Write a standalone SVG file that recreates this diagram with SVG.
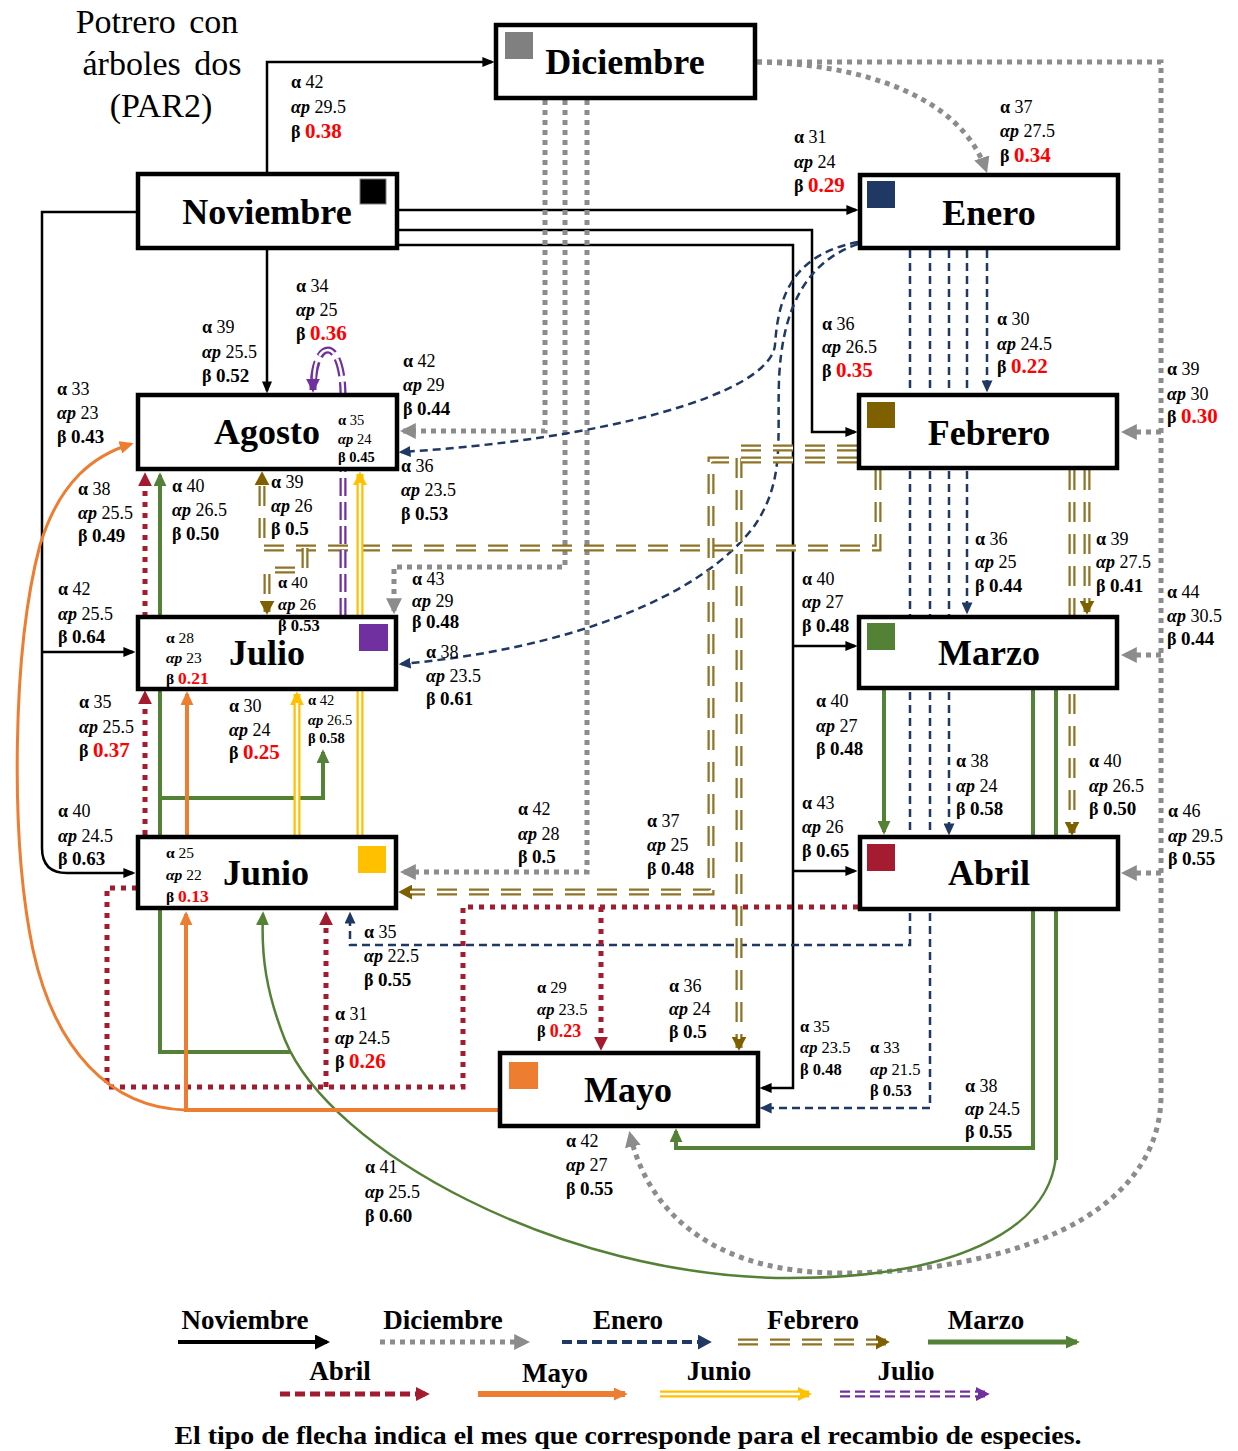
<svg xmlns="http://www.w3.org/2000/svg" width="1238" height="1451" viewBox="0 0 1238 1451">
<style>
.box{fill:#fff;stroke:#000;stroke-width:4.5}
.nt{font-family:"Liberation Serif","Times New Roman",serif;font-weight:bold;font-size:36px;text-anchor:middle;fill:#000}
.title{font-family:"Liberation Serif","Times New Roman",serif;font-size:34px;text-anchor:middle;fill:#000;word-spacing:5px}
.lb{font-family:"Liberation Serif","Times New Roman",serif;font-size:18px;fill:#000}
.a{font-weight:bold}
.ap{font-weight:bold;font-style:italic}
.v{font-weight:bold;font-size:19px}
.r{fill:#FF0000;font-size:21px}
.s14{font-size:14.5px}
.s14 .v{font-size:14.5px}
.s15{font-size:15.5px}
.s15 .v{font-size:15.5px}
.s15 .r{font-size:17.5px}
.s16{font-size:16.5px}
.s16 .v{font-size:16.5px}
.s16 .r{font-size:18px}
.lg{font-family:"Liberation Serif","Times New Roman",serif;font-weight:bold;font-size:27px;text-anchor:middle;fill:#000}
.k{fill:none;stroke:#000;stroke-width:2.5}
.gd{fill:none;stroke:#8C8C8C;stroke-width:5;stroke-dasharray:5 5}
.nv{fill:none;stroke:#1F3864;stroke-width:2.5;stroke-dasharray:8 5}
.br{fill:none;stroke:#8F7326;stroke-width:7;stroke-dasharray:20 12}
.brw{fill:none;stroke:#fff;stroke-width:2.5;stroke-dasharray:20 12}
.gr{fill:none;stroke:#538135;stroke-width:4}
.rd{fill:none;stroke:#A21B2E;stroke-width:5;stroke-dasharray:5 6}
.or{fill:none;stroke:#ED7D31;stroke-width:4}
.ye{fill:none;stroke:#FFC000;stroke-width:7}
.yw{fill:none;stroke:#fff;stroke-width:2.5}
.pu{fill:none;stroke:#7030A0;stroke-width:7;stroke-dasharray:18 6}
.pw{fill:none;stroke:#fff;stroke-width:2.5;stroke-dasharray:18 6}
</style>
<defs>
<marker id="m-k" viewBox="0 0 10 10" refX="8" refY="5" markerUnits="userSpaceOnUse" markerWidth="12" markerHeight="10" orient="auto" preserveAspectRatio="none"><path d="M0,0L10,5L0,10z" fill="#000"/></marker>
<marker id="m-kL" viewBox="0 0 10 10" refX="8" refY="5" markerUnits="userSpaceOnUse" markerWidth="15" markerHeight="15" orient="auto" preserveAspectRatio="none"><path d="M0,0L10,5L0,10z" fill="#000"/></marker>
<marker id="m-g" viewBox="0 0 10 10" refX="8" refY="5" markerUnits="userSpaceOnUse" markerWidth="16" markerHeight="16" orient="auto" preserveAspectRatio="none"><path d="M0,0L10,5L0,10z" fill="#8C8C8C"/></marker>
<marker id="m-n" viewBox="0 0 10 10" refX="8" refY="5" markerUnits="userSpaceOnUse" markerWidth="12" markerHeight="11" orient="auto" preserveAspectRatio="none"><path d="M0,0L10,5L0,10z" fill="#1F3864"/></marker>
<marker id="m-nL" viewBox="0 0 10 10" refX="8" refY="5" markerUnits="userSpaceOnUse" markerWidth="14" markerHeight="15" orient="auto" preserveAspectRatio="none"><path d="M0,0L10,5L0,10z" fill="#1F3864"/></marker>
<marker id="m-b" viewBox="0 0 10 10" refX="8" refY="5" markerUnits="userSpaceOnUse" markerWidth="14" markerHeight="15" orient="auto" preserveAspectRatio="none"><path d="M0,0L10,5L0,10z" fill="#7F6000"/></marker>
<marker id="m-gr" viewBox="0 0 10 10" refX="8" refY="5" markerUnits="userSpaceOnUse" markerWidth="14" markerHeight="13" orient="auto" preserveAspectRatio="none"><path d="M0,0L10,5L0,10z" fill="#538135"/></marker>
<marker id="m-r" viewBox="0 0 10 10" refX="8" refY="5" markerUnits="userSpaceOnUse" markerWidth="14" markerHeight="14" orient="auto" preserveAspectRatio="none"><path d="M0,0L10,5L0,10z" fill="#A21B2E"/></marker>
<marker id="m-o" viewBox="0 0 10 10" refX="8" refY="5" markerUnits="userSpaceOnUse" markerWidth="14" markerHeight="13" orient="auto" preserveAspectRatio="none"><path d="M0,0L10,5L0,10z" fill="#ED7D31"/></marker>
<marker id="m-y" viewBox="0 0 10 10" refX="8" refY="5" markerUnits="userSpaceOnUse" markerWidth="14" markerHeight="14" orient="auto" preserveAspectRatio="none"><path d="M0,0L10,5L0,10z" fill="#FFC000"/></marker>
<marker id="m-p" viewBox="0 0 10 10" refX="8" refY="5" markerUnits="userSpaceOnUse" markerWidth="14" markerHeight="14" orient="auto" preserveAspectRatio="none"><path d="M0,0L10,5L0,10z" fill="#7030A0"/></marker>
</defs>
<rect width="1238" height="1451" fill="#fff"/>

<g id="title">
<text class="title" x="157" y="33">Potrero con</text>
<text class="title" x="162" y="75">árboles dos</text>
<text class="title" x="161" y="117">(PAR2)</text>
</g>

<g id="connectors">
<!-- Noviembre (black) -->
<path class="k" d="M267,174 V62 H492" marker-end="url(#m-k)"/>
<path class="k" d="M399,210 H856" marker-end="url(#m-k)"/>
<path class="k" d="M399,230 H812 V432 H855" marker-end="url(#m-k)"/>
<path class="k" d="M399,245 H793 V1088 H762" marker-end="url(#m-k)"/>
<path class="k" d="M793,646 H855" marker-end="url(#m-k)"/>
<path class="k" d="M793,871 H855" marker-end="url(#m-k)"/>
<path class="k" d="M267,250 V391" marker-end="url(#m-k)"/>
<path class="k" d="M136,212 H42 V848 Q42,873 67,873 H133" marker-end="url(#m-k)"/>
<path class="k" d="M42,652 H133" marker-end="url(#m-k)"/>
<!-- Diciembre (grey dotted) -->
<path class="gd" d="M757,62 C860,64 960,95 986,170" marker-end="url(#m-g)"/>
<path class="gd" d="M757,62 H1161 V1095 C1161,1220 1000,1273 840,1273 C725,1273 650,1222 630,1134" marker-end="url(#m-g)"/>
<path class="gd" d="M1161,432 H1124" marker-end="url(#m-g)"/>
<path class="gd" d="M1161,655 H1124" marker-end="url(#m-g)"/>
<path class="gd" d="M1161,873 H1124" marker-end="url(#m-g)"/>
<path class="gd" d="M545,100 V431 H403" marker-end="url(#m-g)"/>
<path class="gd" d="M565,100 V567 H394 V611" marker-end="url(#m-g)"/>
<path class="gd" d="M587,100 V872 H403" marker-end="url(#m-g)"/>
<!-- Enero (navy dashed) -->
<path class="nv" d="M858,242 C790,255 778,300 775,345 C770,395 600,440 401,452" marker-end="url(#m-n)"/>
<path class="nv" d="M858,244 C805,262 782,310 779,380 C777,440 785,480 755,525 C700,600 560,650 401,664" marker-end="url(#m-n)"/>
<path class="nv" d="M987,250 V390" marker-end="url(#m-n)"/>
<path class="nv" d="M967,250 V612" marker-end="url(#m-n)"/>
<path class="nv" d="M949,250 V833" marker-end="url(#m-n)"/>
<path class="nv" d="M910,250 V945 H350 V914" marker-end="url(#m-n)"/>
<path class="nv" d="M930,250 V1108 H762" marker-end="url(#m-n)"/>
<!-- Febrero (brown double dashed) -->
<path class="br" d="M878,470 V548 H262 V474" marker-end="url(#m-b)"/>
<path class="brw" d="M878,470 V548 H262 V483"/>
<path class="br" d="M305,548 V570 H267 V612" marker-end="url(#m-b)"/>
<path class="brw" d="M305,548 V570 H267 V603"/>
<path class="br" d="M1087,470 V612" marker-end="url(#m-b)"/>
<path class="brw" d="M1087,470 V603"/>
<path class="br" d="M1072,470 V833" marker-end="url(#m-b)"/>
<path class="brw" d="M1072,470 V824"/>
<path class="br" d="M857,448 H739 V1048" marker-end="url(#m-b)"/>
<path class="brw" d="M857,448 H739 V1039"/>
<path class="br" d="M857,460 H711 V892 H401" marker-end="url(#m-b)"/>
<path class="brw" d="M857,460 H711 V892 H410"/>
<!-- Marzo (green) -->
<path class="gr" d="M884,690 V832" marker-end="url(#m-gr)"/>
<path class="gr" d="M1033,690 V1148 H676 V1131" marker-end="url(#m-gr)"/>
<path class="gr" d="M1056,690 V1160"/>
<path class="gr" style="stroke-width:2.5" d="M1056,1155 C1050,1232 950,1278 790,1278 C560,1278 330,1150 285,1040 C266,992 261,955 263,914" marker-end="url(#m-gr)"/>
<path class="gr" d="M290,1052 H160 V475" marker-end="url(#m-gr)"/>
<path class="gr" d="M160,798 H323 V752" marker-end="url(#m-gr)"/>
<!-- Abril (red dotted) -->
<path class="rd" d="M858,907 H463 V1087 H107 V888 H145 V693" marker-end="url(#m-r)"/>
<path class="rd" d="M145,650 V475" marker-end="url(#m-r)"/>
<path class="rd" d="M326,1087 V914" marker-end="url(#m-r)"/>
<path class="rd" d="M601,907 V1048" marker-end="url(#m-r)"/>
<!-- Mayo (orange) -->
<path class="or" d="M500,1110 H186 V914" marker-end="url(#m-o)"/>
<path class="or" d="M187,860 V694" marker-end="url(#m-o)"/>
<path class="or" style="stroke-width:3" d="M186,1110 C110,1108 55,1050 33,950 C10,840 12,650 40,545 C60,480 95,455 131,444" marker-end="url(#m-o)"/>
<!-- Junio (yellow double) -->
<path class="ye" d="M297,837 V694" marker-end="url(#m-y)"/>
<path class="yw" d="M297,837 V703"/>
<path class="ye" d="M360,837 V474" marker-end="url(#m-y)"/>
<path class="yw" d="M360,837 V483"/>
<!-- Julio (purple double dashed) -->
<path class="pu" d="M343,616 V395 C343,368 336,350 328,350 C319,350 313,368 313,390" marker-end="url(#m-p)"/>
<path class="pw" d="M343,616 V395 C343,368 336,350 328,350 C320,350 314,362 314,381"/>
</g>

<g id="node-diciembre"><rect class="box" x="496" y="25" width="259" height="73"/><rect x="505" y="32" width="28" height="27" fill="#808080"/><text class="nt" x="625" y="74">Diciembre</text></g>
<g id="node-noviembre"><rect class="box" x="138" y="174" width="259" height="74"/><rect x="360" y="179" width="26" height="25" fill="#000" stroke="#7f7f7f" stroke-width="1"/><text class="nt" x="267" y="224">Noviembre</text></g>
<g id="node-enero"><rect class="box" x="860" y="175" width="258" height="73"/><rect x="867" y="181" width="28" height="27" fill="#203864"/><text class="nt" x="989" y="225">Enero</text></g>
<g id="node-agosto"><rect class="box" x="138" y="395" width="259" height="74"/><text class="nt" x="267" y="444">Agosto</text>
<text class="lb s14" transform="translate(338,425)"><tspan x="0" y="0"><tspan class="a">α</tspan> 35</tspan><tspan x="0" y="19"><tspan class="ap">αp</tspan> 24</tspan><tspan x="0" y="37"><tspan class="a">β</tspan> <tspan class="v">0.45</tspan></tspan></text></g>
<g id="node-febrero"><rect class="box" x="859" y="395" width="258" height="73"/><rect x="867" y="402" width="28" height="26" fill="#7F6000"/><text class="nt" x="989" y="445">Febrero</text></g>
<g id="node-julio"><rect class="box" x="138" y="617" width="258" height="72"/><rect x="359" y="624" width="29" height="27" fill="#7030A0"/><text class="nt" x="267" y="665">Julio</text>
<text class="lb s15" transform="translate(166,643)"><tspan x="0" y="0"><tspan class="a">α</tspan> 28</tspan><tspan x="0" y="20"><tspan class="ap">αp</tspan> 23</tspan><tspan x="0" y="41"><tspan class="a">β</tspan> <tspan class="v r">0.21</tspan></tspan></text></g>
<g id="node-marzo"><rect class="box" x="859" y="617" width="258" height="71"/><rect x="867" y="623" width="28" height="27" fill="#538135"/><text class="nt" x="989" y="665">Marzo</text></g>
<g id="node-junio"><rect class="box" x="138" y="837" width="258" height="71"/><rect x="358" y="846" width="28" height="27" fill="#FFC000"/><text class="nt" x="266" y="885">Junio</text>
<text class="lb s15" transform="translate(166,858)"><tspan x="0" y="0"><tspan class="a">α</tspan> 25</tspan><tspan x="0" y="22"><tspan class="ap">αp</tspan> 22</tspan><tspan x="0" y="44"><tspan class="a">β</tspan> <tspan class="v r">0.13</tspan></tspan></text></g>
<g id="node-abril"><rect class="box" x="860" y="837" width="258" height="72"/><rect x="867" y="844" width="28" height="27" fill="#A51C30"/><text class="nt" x="989" y="885">Abril</text></g>
<g id="node-mayo"><rect class="box" x="500" y="1053" width="258" height="73"/><rect x="509" y="1062" width="29" height="27" fill="#ED7D31"/><text class="nt" x="628" y="1102">Mayo</text></g>

<g id="edge-labels">
<text class="lb" transform="translate(291,88)"><tspan x="0" y="0"><tspan class="a">α</tspan> 42</tspan><tspan x="0" y="25"><tspan class="ap">αp</tspan> 29.5</tspan><tspan x="0" y="50"><tspan class="a">β</tspan> <tspan class="v r">0.38</tspan></tspan></text>
<text class="lb" transform="translate(794,143)"><tspan x="0" y="0"><tspan class="a">α</tspan> 31</tspan><tspan x="0" y="25"><tspan class="ap">αp</tspan> 24</tspan><tspan x="0" y="49"><tspan class="a">β</tspan> <tspan class="v r">0.29</tspan></tspan></text>
<text class="lb" transform="translate(1000,113)"><tspan x="0" y="0"><tspan class="a">α</tspan> 37</tspan><tspan x="0" y="24"><tspan class="ap">αp</tspan> 27.5</tspan><tspan x="0" y="49"><tspan class="a">β</tspan> <tspan class="v r">0.34</tspan></tspan></text>
<text class="lb" transform="translate(202,333)"><tspan x="0" y="0"><tspan class="a">α</tspan> 39</tspan><tspan x="0" y="25"><tspan class="ap">αp</tspan> 25.5</tspan><tspan x="0" y="49"><tspan class="a">β</tspan> <tspan class="v">0.52</tspan></tspan></text>
<text class="lb" transform="translate(296,292)"><tspan x="0" y="0"><tspan class="a">α</tspan> 34</tspan><tspan x="0" y="24"><tspan class="ap">αp</tspan> 25</tspan><tspan x="0" y="48"><tspan class="a">β</tspan> <tspan class="v r">0.36</tspan></tspan></text>
<text class="lb" transform="translate(403,367)"><tspan x="0" y="0"><tspan class="a">α</tspan> 42</tspan><tspan x="0" y="24"><tspan class="ap">αp</tspan> 29</tspan><tspan x="0" y="48"><tspan class="a">β</tspan> <tspan class="v">0.44</tspan></tspan></text>
<text class="lb" transform="translate(822,330)"><tspan x="0" y="0"><tspan class="a">α</tspan> 36</tspan><tspan x="0" y="23"><tspan class="ap">αp</tspan> 26.5</tspan><tspan x="0" y="47"><tspan class="a">β</tspan> <tspan class="v r">0.35</tspan></tspan></text>
<text class="lb" transform="translate(997,325)"><tspan x="0" y="0"><tspan class="a">α</tspan> 30</tspan><tspan x="0" y="25"><tspan class="ap">αp</tspan> 24.5</tspan><tspan x="0" y="48"><tspan class="a">β</tspan> <tspan class="v r">0.22</tspan></tspan></text>
<text class="lb" transform="translate(1167,375)"><tspan x="0" y="0"><tspan class="a">α</tspan> 39</tspan><tspan x="0" y="25"><tspan class="ap">αp</tspan> 30</tspan><tspan x="0" y="48"><tspan class="a">β</tspan> <tspan class="v r">0.30</tspan></tspan></text>
<text class="lb" transform="translate(57,395)"><tspan x="0" y="0"><tspan class="a">α</tspan> 33</tspan><tspan x="0" y="24"><tspan class="ap">αp</tspan> 23</tspan><tspan x="0" y="48"><tspan class="a">β</tspan> <tspan class="v">0.43</tspan></tspan></text>
<text class="lb" transform="translate(401,472)"><tspan x="0" y="0"><tspan class="a">α</tspan> 36</tspan><tspan x="0" y="24"><tspan class="ap">αp</tspan> 23.5</tspan><tspan x="0" y="48"><tspan class="a">β</tspan> <tspan class="v">0.53</tspan></tspan></text>
<text class="lb" transform="translate(78,495)"><tspan x="0" y="0"><tspan class="a">α</tspan> 38</tspan><tspan x="0" y="24"><tspan class="ap">αp</tspan> 25.5</tspan><tspan x="0" y="47"><tspan class="a">β</tspan> <tspan class="v">0.49</tspan></tspan></text>
<text class="lb" transform="translate(172,492)"><tspan x="0" y="0"><tspan class="a">α</tspan> 40</tspan><tspan x="0" y="24"><tspan class="ap">αp</tspan> 26.5</tspan><tspan x="0" y="48"><tspan class="a">β</tspan> <tspan class="v">0.50</tspan></tspan></text>
<text class="lb" transform="translate(271,488)"><tspan x="0" y="0"><tspan class="a">α</tspan> 39</tspan><tspan x="0" y="24"><tspan class="ap">αp</tspan> 26</tspan><tspan x="0" y="47"><tspan class="a">β</tspan> <tspan class="v">0.5</tspan></tspan></text>
<text class="lb" transform="translate(975,545)"><tspan x="0" y="0"><tspan class="a">α</tspan> 36</tspan><tspan x="0" y="23"><tspan class="ap">αp</tspan> 25</tspan><tspan x="0" y="47"><tspan class="a">β</tspan> <tspan class="v">0.44</tspan></tspan></text>
<text class="lb" transform="translate(1096,545)"><tspan x="0" y="0"><tspan class="a">α</tspan> 39</tspan><tspan x="0" y="23"><tspan class="ap">αp</tspan> 27.5</tspan><tspan x="0" y="47"><tspan class="a">β</tspan> <tspan class="v">0.41</tspan></tspan></text>
<text class="lb" transform="translate(58,595)"><tspan x="0" y="0"><tspan class="a">α</tspan> 42</tspan><tspan x="0" y="25"><tspan class="ap">αp</tspan> 25.5</tspan><tspan x="0" y="48"><tspan class="a">β</tspan> <tspan class="v">0.64</tspan></tspan></text>
<text class="lb s16" transform="translate(278,588)"><tspan x="0" y="0"><tspan class="a">α</tspan> 40</tspan><tspan x="0" y="22"><tspan class="ap">αp</tspan> 26</tspan><tspan x="0" y="43"><tspan class="a">β</tspan> <tspan class="v">0.53</tspan></tspan></text>
<text class="lb" transform="translate(412,585)"><tspan x="0" y="0"><tspan class="a">α</tspan> 43</tspan><tspan x="0" y="22"><tspan class="ap">αp</tspan> 29</tspan><tspan x="0" y="43"><tspan class="a">β</tspan> <tspan class="v">0.48</tspan></tspan></text>
<text class="lb" transform="translate(802,585)"><tspan x="0" y="0"><tspan class="a">α</tspan> 40</tspan><tspan x="0" y="23"><tspan class="ap">αp</tspan> 27</tspan><tspan x="0" y="47"><tspan class="a">β</tspan> <tspan class="v">0.48</tspan></tspan></text>
<text class="lb" transform="translate(1167,598)"><tspan x="0" y="0"><tspan class="a">α</tspan> 44</tspan><tspan x="0" y="24"><tspan class="ap">αp</tspan> 30.5</tspan><tspan x="0" y="47"><tspan class="a">β</tspan> <tspan class="v">0.44</tspan></tspan></text>
<text class="lb" transform="translate(426,658)"><tspan x="0" y="0"><tspan class="a">α</tspan> 38</tspan><tspan x="0" y="24"><tspan class="ap">αp</tspan> 23.5</tspan><tspan x="0" y="47"><tspan class="a">β</tspan> <tspan class="v">0.61</tspan></tspan></text>
<text class="lb" transform="translate(79,708)"><tspan x="0" y="0"><tspan class="a">α</tspan> 35</tspan><tspan x="0" y="25"><tspan class="ap">αp</tspan> 25.5</tspan><tspan x="0" y="49"><tspan class="a">β</tspan> <tspan class="v r">0.37</tspan></tspan></text>
<text class="lb" transform="translate(229,712)"><tspan x="0" y="0"><tspan class="a">α</tspan> 30</tspan><tspan x="0" y="24"><tspan class="ap">αp</tspan> 24</tspan><tspan x="0" y="47"><tspan class="a">β</tspan> <tspan class="v r">0.25</tspan></tspan></text>
<text class="lb s14" transform="translate(308,705)"><tspan x="0" y="0"><tspan class="a">α</tspan> 42</tspan><tspan x="0" y="20"><tspan class="ap">αp</tspan> 26.5</tspan><tspan x="0" y="38"><tspan class="a">β</tspan> <tspan class="v">0.58</tspan></tspan></text>
<text class="lb" transform="translate(816,707)"><tspan x="0" y="0"><tspan class="a">α</tspan> 40</tspan><tspan x="0" y="25"><tspan class="ap">αp</tspan> 27</tspan><tspan x="0" y="48"><tspan class="a">β</tspan> <tspan class="v">0.48</tspan></tspan></text>
<text class="lb" transform="translate(956,767)"><tspan x="0" y="0"><tspan class="a">α</tspan> 38</tspan><tspan x="0" y="25"><tspan class="ap">αp</tspan> 24</tspan><tspan x="0" y="48"><tspan class="a">β</tspan> <tspan class="v">0.58</tspan></tspan></text>
<text class="lb" transform="translate(1089,767)"><tspan x="0" y="0"><tspan class="a">α</tspan> 40</tspan><tspan x="0" y="25"><tspan class="ap">αp</tspan> 26.5</tspan><tspan x="0" y="48"><tspan class="a">β</tspan> <tspan class="v">0.50</tspan></tspan></text>
<text class="lb" transform="translate(802,809)"><tspan x="0" y="0"><tspan class="a">α</tspan> 43</tspan><tspan x="0" y="24"><tspan class="ap">αp</tspan> 26</tspan><tspan x="0" y="48"><tspan class="a">β</tspan> <tspan class="v">0.65</tspan></tspan></text>
<text class="lb" transform="translate(1168,817)"><tspan x="0" y="0"><tspan class="a">α</tspan> 46</tspan><tspan x="0" y="25"><tspan class="ap">αp</tspan> 29.5</tspan><tspan x="0" y="48"><tspan class="a">β</tspan> <tspan class="v">0.55</tspan></tspan></text>
<text class="lb" transform="translate(58,817)"><tspan x="0" y="0"><tspan class="a">α</tspan> 40</tspan><tspan x="0" y="25"><tspan class="ap">αp</tspan> 24.5</tspan><tspan x="0" y="48"><tspan class="a">β</tspan> <tspan class="v">0.63</tspan></tspan></text>
<text class="lb" transform="translate(518,815)"><tspan x="0" y="0"><tspan class="a">α</tspan> 42</tspan><tspan x="0" y="25"><tspan class="ap">αp</tspan> 28</tspan><tspan x="0" y="48"><tspan class="a">β</tspan> <tspan class="v">0.5</tspan></tspan></text>
<text class="lb" transform="translate(647,827)"><tspan x="0" y="0"><tspan class="a">α</tspan> 37</tspan><tspan x="0" y="24"><tspan class="ap">αp</tspan> 25</tspan><tspan x="0" y="48"><tspan class="a">β</tspan> <tspan class="v">0.48</tspan></tspan></text>
<text class="lb" transform="translate(364,938)"><tspan x="0" y="0"><tspan class="a">α</tspan> 35</tspan><tspan x="0" y="24"><tspan class="ap">αp</tspan> 22.5</tspan><tspan x="0" y="48"><tspan class="a">β</tspan> <tspan class="v">0.55</tspan></tspan></text>
<text class="lb s16" transform="translate(537,993)"><tspan x="0" y="0"><tspan class="a">α</tspan> 29</tspan><tspan x="0" y="22"><tspan class="ap">αp</tspan> 23.5</tspan><tspan x="0" y="44"><tspan class="a">β</tspan> <tspan class="v r">0.23</tspan></tspan></text>
<text class="lb" transform="translate(669,992)"><tspan x="0" y="0"><tspan class="a">α</tspan> 36</tspan><tspan x="0" y="23"><tspan class="ap">αp</tspan> 24</tspan><tspan x="0" y="46"><tspan class="a">β</tspan> <tspan class="v">0.5</tspan></tspan></text>
<text class="lb" transform="translate(335,1020)"><tspan x="0" y="0"><tspan class="a">α</tspan> 31</tspan><tspan x="0" y="24"><tspan class="ap">αp</tspan> 24.5</tspan><tspan x="0" y="48"><tspan class="a">β</tspan> <tspan class="v r">0.26</tspan></tspan></text>
<text class="lb s16" transform="translate(800,1032)"><tspan x="0" y="0"><tspan class="a">α</tspan> 35</tspan><tspan x="0" y="21"><tspan class="ap">αp</tspan> 23.5</tspan><tspan x="0" y="43"><tspan class="a">β</tspan> <tspan class="v">0.48</tspan></tspan></text>
<text class="lb s16" transform="translate(870,1053)"><tspan x="0" y="0"><tspan class="a">α</tspan> 33</tspan><tspan x="0" y="22"><tspan class="ap">αp</tspan> 21.5</tspan><tspan x="0" y="43"><tspan class="a">β</tspan> <tspan class="v">0.53</tspan></tspan></text>
<text class="lb" transform="translate(965,1092)"><tspan x="0" y="0"><tspan class="a">α</tspan> 38</tspan><tspan x="0" y="23"><tspan class="ap">αp</tspan> 24.5</tspan><tspan x="0" y="46"><tspan class="a">β</tspan> <tspan class="v">0.55</tspan></tspan></text>
<text class="lb" transform="translate(566,1147)"><tspan x="0" y="0"><tspan class="a">α</tspan> 42</tspan><tspan x="0" y="24"><tspan class="ap">αp</tspan> 27</tspan><tspan x="0" y="48"><tspan class="a">β</tspan> <tspan class="v">0.55</tspan></tspan></text>
<text class="lb" transform="translate(365,1173)"><tspan x="0" y="0"><tspan class="a">α</tspan> 41</tspan><tspan x="0" y="25"><tspan class="ap">αp</tspan> 25.5</tspan><tspan x="0" y="49"><tspan class="a">β</tspan> <tspan class="v">0.60</tspan></tspan></text>
</g>

<g id="legend">
<text class="lg" x="245" y="1329">Noviembre</text>
<text class="lg" x="443" y="1329">Diciembre</text>
<text class="lg" x="628" y="1329">Enero</text>
<text class="lg" x="813" y="1329">Febrero</text>
<text class="lg" x="986" y="1329">Marzo</text>
<text class="lg" x="340" y="1380">Abril</text>
<text class="lg" x="555" y="1382">Mayo</text>
<text class="lg" x="719" y="1380">Junio</text>
<text class="lg" x="906" y="1380">Julio</text>
<path class="k" style="stroke-width:4" d="M178,1342 H327" marker-end="url(#m-kL)"/>
<path class="gd" d="M380,1342 H527" marker-end="url(#m-g)"/>
<path class="nv" style="stroke-width:4;stroke-dasharray:10 5" d="M562,1342 H709" marker-end="url(#m-nL)"/>
<path class="br" d="M738,1342 H887" marker-end="url(#m-b)"/>
<path class="brw" d="M738,1342 H878"/>
<path class="gr" style="stroke-width:5" d="M928,1342 H1077" marker-end="url(#m-gr)"/>
<path class="rd" style="stroke-dasharray:10 5" d="M280,1394 H427" marker-end="url(#m-r)"/>
<path class="or" style="stroke-width:6" d="M478,1394 H625" marker-end="url(#m-o)"/>
<path class="ye" d="M660,1394 H809" marker-end="url(#m-y)"/>
<path class="yw" d="M660,1394 H800"/>
<path class="pu" style="stroke-dasharray:10 5" d="M840,1394 H987" marker-end="url(#m-p)"/>
<path class="pw" style="stroke-dasharray:10 5" d="M840,1394 H978"/>
<text class="lg" x="628" y="1444" style="font-size:25px" textLength="907" lengthAdjust="spacingAndGlyphs">El tipo de flecha indica el mes que corresponde para el recambio de especies.</text>
</g>
</svg>
